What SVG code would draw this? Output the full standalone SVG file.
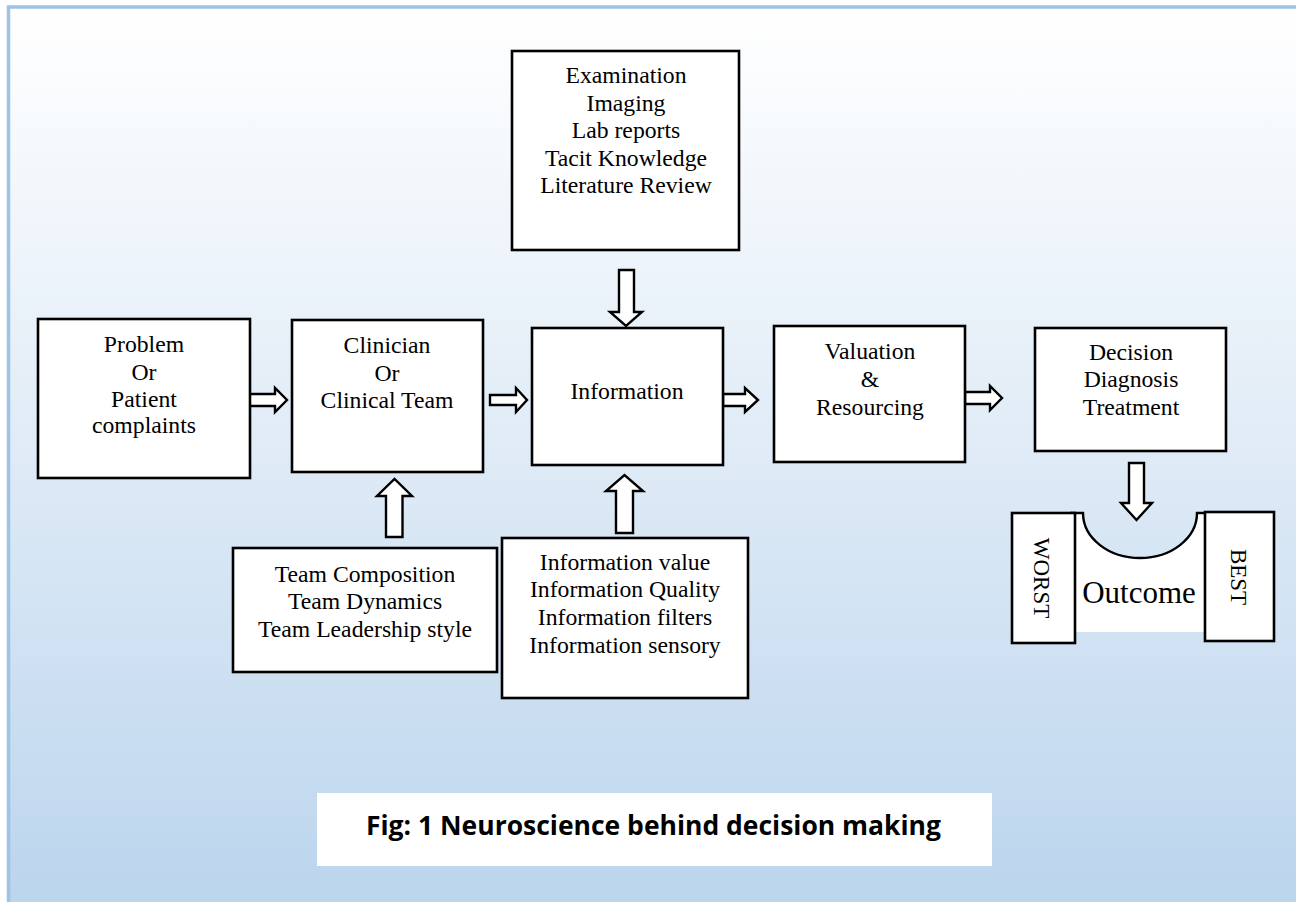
<svg xmlns="http://www.w3.org/2000/svg" width="1296" height="902" viewBox="0 0 1296 902">
<style>
.box{fill:#ffffff;stroke:#000000;stroke-width:2.6}
.arr{fill:#ffffff;stroke:#000000;stroke-width:2.4;stroke-linejoin:miter}
.t{font-family:"Liberation Serif","Times New Roman",serif;font-size:23.7px;fill:#000000;text-anchor:middle}
.cap{font-family:"Open Sans","Liberation Sans",sans-serif;font-size:26px;font-weight:bold;fill:#000000}
</style>
<defs>
<linearGradient id="bg" x1="0" y1="9" x2="0" y2="902" gradientUnits="userSpaceOnUse">
<stop offset="0" stop-color="#ffffff"/>
<stop offset="0.4" stop-color="#e6eff8"/>
<stop offset="1" stop-color="#bbd5ed"/>
</linearGradient>
</defs>
<rect x="0" y="0" width="1296" height="902" fill="#ffffff"/>
<rect x="8.5" y="7" width="1300" height="910" fill="url(#bg)" stroke="#9dc3e6" stroke-width="3.5"/>

<g id="connectors">
<polygon class="arr" points="249,394 275,394 275,388 287,400 275,412 275,406 249,406"/>
<polygon class="arr" points="490,395 516,395 516,388 527,400 516,412 516,405 490,405"/>
<polygon class="arr" points="723,394 745,394 745,388 758,400 745,412 745,406 723,406"/>
<polygon class="arr" points="965,392 990,392 990,386 1002,398 990,410 990,404 965,404"/>
<polygon class="arr" points="619,270 634,270 634,312 642,312 626,326 610,312 619,312"/>
<polygon class="arr" points="1129,463 1144,463 1144,503 1152,503 1136.5,520 1121,503 1129,503"/>
<polygon class="arr" points="386,537 386,496 377,496 394.5,479 412,496 402.5,496 402.5,537"/>
<polygon class="arr" points="616,533 616,491 606,491 624.5,475 643,491 633,491 633,533"/>
</g>

<g id="problem">
<rect class="box" x="38" y="319" width="212" height="159"/>
<text class="t" x="144" y="352">Problem</text>
<text class="t" x="144" y="380">Or</text>
<text class="t" x="144" y="407">Patient</text>
<text class="t" x="144" y="433">complaints</text>
</g>

<g id="clinician">
<rect class="box" x="292" y="320" width="191" height="152"/>
<text class="t" x="387" y="353">Clinician</text>
<text class="t" x="387" y="381">Or</text>
<text class="t" x="387" y="408">Clinical Team</text>
</g>

<g id="examination">
<rect class="box" x="512" y="51" width="227" height="199"/>
<text class="t" x="626" y="83">Examination</text>
<text class="t" x="626" y="111">Imaging</text>
<text class="t" x="626" y="138">Lab reports</text>
<text class="t" x="626" y="166">Tacit Knowledge</text>
<text class="t" x="626" y="193">Literature Review</text>
</g>

<g id="information">
<rect class="box" x="532" y="328" width="191" height="137"/>
<text class="t" x="627" y="399">Information</text>
</g>

<g id="valuation">
<rect class="box" x="774" y="326" width="191" height="136"/>
<text class="t" x="870" y="359">Valuation</text>
<text class="t" x="870" y="387">&amp;</text>
<text class="t" x="870" y="415">Resourcing</text>
</g>

<g id="decision">
<rect class="box" x="1035" y="328" width="191" height="123"/>
<text class="t" x="1131" y="360">Decision</text>
<text class="t" x="1131" y="387">Diagnosis</text>
<text class="t" x="1131" y="415">Treatment</text>
</g>

<g id="team">
<rect class="box" x="233" y="548" width="264" height="124"/>
<text class="t" x="365" y="582">Team Composition</text>
<text class="t" x="365" y="609">Team Dynamics</text>
<text class="t" x="365" y="637">Team Leadership style</text>
</g>

<g id="infoquality">
<rect class="box" x="502" y="538" width="246" height="160"/>
<text class="t" x="625" y="570">Information value</text>
<text class="t" x="625" y="597">Information Quality</text>
<text class="t" x="625" y="625">Information filters</text>
<text class="t" x="625" y="653">Information sensory</text>
</g>

<g id="outcome">
<path d="M1070,513 L1083,513 A57,45 0 0 0 1197,513 L1210,513 L1210,632 L1070,632 Z" fill="#ffffff" stroke="none"/>
<path d="M1070,513 L1083,513 A57,45 0 0 0 1197,513 L1210,513" fill="none" stroke="#000000" stroke-width="2.4"/>
<text class="t" x="1139" y="603" style="font-size:31px">Outcome</text>
</g>

<g id="worst">
<rect class="box" x="1012" y="513" width="63" height="130"/>
<text class="t" transform="translate(1042,578) rotate(90)" x="0" y="0" dy="0.33em" style="font-size:23px">WORST</text>
</g>

<g id="best">
<rect class="box" x="1205" y="512" width="69" height="129"/>
<text class="t" transform="translate(1239,577) rotate(90)" x="0" y="0" dy="0.33em" style="font-size:23px">BEST</text>
</g>

<g id="caption">
<rect x="317" y="793" width="675" height="73" fill="#ffffff"/>
<text class="cap" x="366" y="835" textLength="575" lengthAdjust="spacingAndGlyphs">Fig: 1 Neuroscience behind decision making</text>
</g>
</svg>
